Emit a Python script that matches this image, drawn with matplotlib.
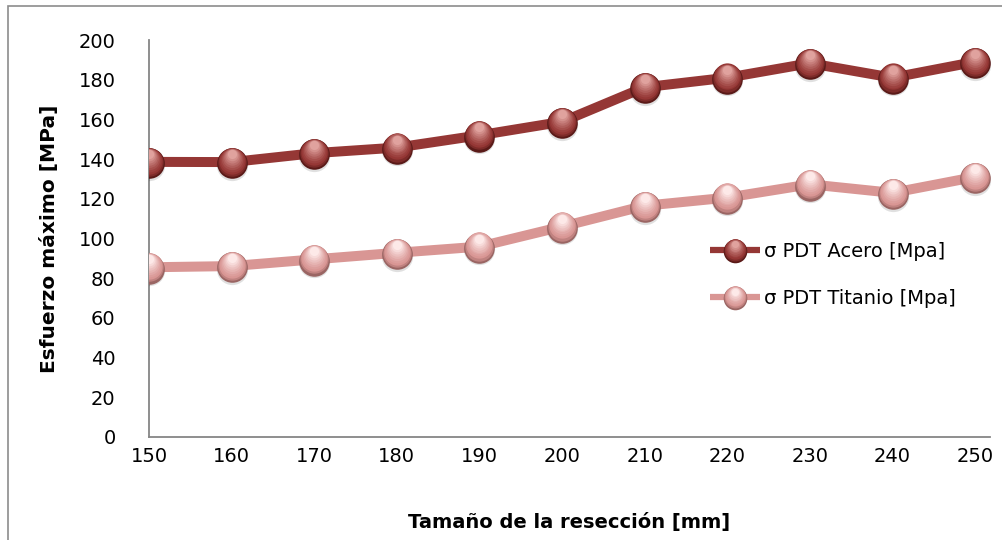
import matplotlib
matplotlib.use("Agg")
import matplotlib.pyplot as plt
import matplotlib.colors as mcolors
from matplotlib.patches import Rectangle
from matplotlib.lines import Line2D
from matplotlib.legend_handler import HandlerBase
from matplotlib.transforms import ScaledTranslation

plt.rcParams['font.family'] = ['DejaVu Sans']

# Resection size [mm]
reseccion = [150, 160, 170, 180, 190, 200, 210, 220, 230, 240, 250]
# Maximum stress [MPa]
acero = [138.6, 138.5, 143.0, 145.8, 152.0, 158.8, 176.2, 181.0, 188.3, 181.0, 189.0]
titanio = [85.5, 86.1, 89.5, 92.8, 95.9, 106.0, 116.5, 120.6, 127.3, 123.0, 131.0]
yticks = [0, 20, 40, 60, 80, 100, 120, 140, 160, 180, 200]

series = [
    ("σ PDT Acero [Mpa]", acero, "#953735", "#5a1a18", "#e0a29e"),
    ("σ PDT Titanio [Mpa]", titanio, "#d99694", "#9a6563", "#fde9e8"),
]


def mix(c1, c2, w):
    a, b = mcolors.to_rgb(c1), mcolors.to_rgb(c2)
    return tuple((1 - w) * x + w * y for x, y in zip(a, b))


def sphere_layers(size, col, dark, light):
    """Stacked discs (size pt, colour, upward offset pt) forming a shaded ball."""
    layers = [(size, dark, -0.04 * size),
              (size * 0.93, mix(dark, col, 0.6), 0.0),
              (size * 0.86, col, 0.04 * size)]
    n = 7
    for i in range(1, n + 1):
        t = i / n
        layers.append((size * (0.86 - 0.56 * t), mix(col, light, t ** 1.2),
                       size * (0.04 + 0.22 * t)))
    return layers


class BallHandler(HandlerBase):
    def create_artists(self, legend, orig_handle, xdescent, ydescent, width, height,
                       fontsize, trans):
        col, dark, light = orig_handle.ball_colors
        y = height / 2 - ydescent
        arts = [Line2D([-xdescent, width - xdescent], [y, y], color=col, linewidth=4.5,
                       solid_capstyle="butt", transform=trans)]
        xc = (width - xdescent) / 2 - xdescent / 2
        for s, c, dy in sphere_layers(17, col, dark, light):
            arts.append(Line2D([xc], [y + dy * 0.9], linestyle="none", marker="o",
                               markersize=s, markerfacecolor=c, markeredgecolor="none",
                               transform=trans))
        return arts


fig = plt.figure(figsize=(10.02, 5.4), dpi=100)
fig.patches.append(Rectangle((8 / 1002, -0.1), 1.2, (540 - 6) / 540 + 0.1,
                             transform=fig.transFigure, fill=False,
                             edgecolor="#8c8c8c", linewidth=1.2))

ax = fig.add_axes([149 / 1002, 103 / 540, (990 - 149) / 1002, 397 / 540])

handles = []
for label, vals, col, dark, light in series:
    ax.plot(reseccion, vals, color=col, linewidth=7.2, solid_capstyle="butt", zorder=2)
    # soft shadow under each ball
    ax.plot(reseccion, vals, linestyle="none", marker="o", markersize=22.5,
            markerfacecolor="#000000", markeredgecolor="none", alpha=0.12, zorder=3,
            transform=ax.transData + ScaledTranslation(0, -2 / 72, fig.dpi_scale_trans))
    # shaded balls built from stacked discs
    for k, (s, c, dy) in enumerate(sphere_layers(22, col, dark, light)):
        ax.plot(reseccion, vals, linestyle="none", marker="o", markersize=s,
                markerfacecolor=c, markeredgecolor="none", zorder=4 + k * 0.01,
                transform=ax.transData + ScaledTranslation(0, dy / 72, fig.dpi_scale_trans))
    h = Line2D([], [], color=col, label=label)
    h.ball_colors = (col, dark, light)
    handles.append(h)

ax.set_xlim(150, 251.8)
ax.set_ylim(0, 200)
ax.set_xticks(reseccion)
ax.set_yticks(yticks)
ax.tick_params(axis="both", length=0, labelsize=14, colors="black")
ax.tick_params(axis="y", pad=24)
ax.tick_params(axis="x", pad=7)

for side in ("top", "right"):
    ax.spines[side].set_visible(False)
for side in ("left", "bottom"):
    ax.spines[side].set_color("#868686")
    ax.spines[side].set_linewidth(1.3)

ax.set_xlabel("Tamaño de la resección [mm]", fontsize=14, fontweight="bold", labelpad=34)
ax.set_ylabel("Esfuerzo máximo [MPa]", fontsize=14.5, fontweight="bold", labelpad=14)

leg = ax.legend(handles=handles, loc="upper left", bbox_to_anchor=(700 / 1002, (540 - 232) / 540),
                bbox_transform=fig.transFigure, frameon=False, fontsize=14,
                handlelength=2.6, handletextpad=0.2, labelspacing=1.45, borderpad=0,
                handler_map={Line2D: BallHandler()})

fig.savefig("out.png", dpi=100)
